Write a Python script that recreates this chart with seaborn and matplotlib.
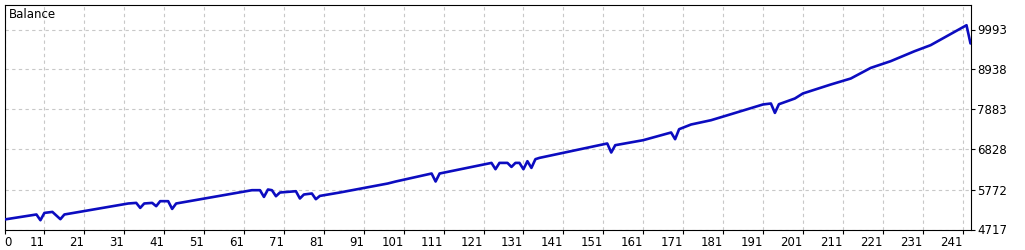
import matplotlib
matplotlib.use("Agg")
import matplotlib.pyplot as plt
import seaborn as sns
import pandas as pd

# --- data (vertices of the balance curve) ---
trade = [1, 9, 10, 11, 13, 15, 16, 32, 34, 35, 36, 38, 39, 40, 42, 43, 44,
         63, 65, 66, 67, 68, 69, 70, 74, 75, 76, 78, 79, 80, 85, 97, 99,
         108, 109, 110, 123, 124, 125, 127, 128, 129, 130, 131, 132, 133, 134, 135,
         152, 153, 154, 161, 168, 169, 170, 173, 178, 183, 191, 193, 194, 195,
         199, 201, 208, 213, 218, 223, 229, 233, 242, 243]
balance = [4981, 5113, 4962, 5155, 5181, 4989, 5113, 5403, 5419, 5287, 5403, 5419, 5332, 5464, 5464, 5260, 5403,
           5754, 5754, 5577, 5772, 5754, 5595, 5693, 5727, 5535, 5640, 5667, 5516, 5603, 5693, 5930, 5983,
           6194, 5983, 6194, 6474, 6308, 6474, 6474, 6368, 6474, 6474, 6308, 6519, 6342, 6572, 6606,
           6986, 6748, 6941, 7073, 7276, 7099, 7363, 7487, 7600, 7759, 8015, 8041, 7793, 8022,
           8173, 8305, 8542, 8700, 8980, 9157, 9421, 9579, 10106, 9624]

x_ticks = [11, 21, 31, 41, 51, 61, 71, 81, 91, 101, 111, 121, 131, 141, 151,
           161, 171, 181, 191, 201, 211, 221, 231, 241]
x_first_label = "0"
y_ticks = [4717, 5772, 6828, 7883, 8938, 9993]
y_tick_labels = ["4717", "5772", "6828", "7883", "8938", "9993"]
title = "Balance"

df = pd.DataFrame({"trade": trade, "balance": balance})

sns.set_style("white")
plt.rcParams["font.family"] = ["DejaVu Sans"]

fig = plt.figure(figsize=(10.25, 2.5), dpi=100)
ax = fig.add_axes([4.5 / 1025, 1 - 229.5 / 250, (970.5 - 4.5) / 1025, (229.5 - 4.5) / 250])

sns.lineplot(data=df, x="trade", y="balance", ax=ax, color="#0C0CC0",
             linewidth=1.9, zorder=3)

ax.set_xlim(1, 243)
ax.set_ylim(4717, 4717 + 225 * 26.38)

ax.set_xticks([1] + x_ticks)
ax.set_xticklabels([x_first_label] + [str(t) for t in x_ticks])
labels = ax.get_xticklabels()
labels[0].set_horizontalalignment("left")
for lb in labels[1:]:
    lb.set_horizontalalignment("right")

ax.yaxis.tick_right()
ax.set_yticks(y_ticks)
ax.set_yticklabels(y_tick_labels)

ax.grid(True, color="#C8C8C8", linestyle=(0, (3, 3)), linewidth=0.8, zorder=0)
ax.set_axisbelow(True)

ax.tick_params(axis="x", direction="out", length=3, width=0.8, pad=2,
               labelsize=8.5, colors="black", bottom=True)
ax.tick_params(axis="y", direction="out", length=3, width=0.8, pad=2,
               labelsize=8.5, colors="black", right=True, left=False)

for s in ax.spines.values():
    s.set_visible(True)
    s.set_color("black")
    s.set_linewidth(0.8)

ax.set_xlabel("")
ax.set_ylabel("")

ax.text(4.5 / 966, 1 - 4 / 225, title, transform=ax.transAxes, ha="left", va="top",
        fontsize=8.5, color="black")

fig.savefig("out.png", dpi=100)
